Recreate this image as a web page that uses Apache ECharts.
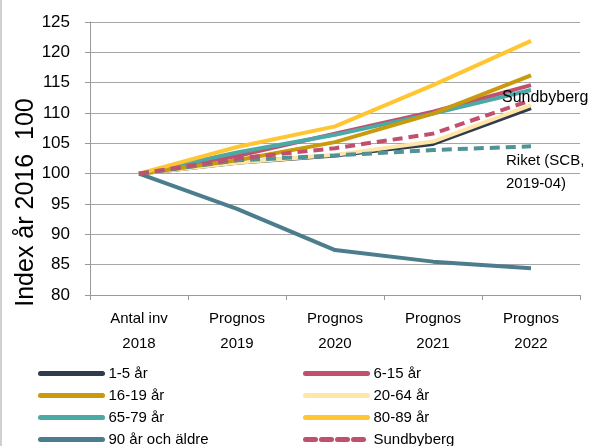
<!DOCTYPE html>
<html>
<head>
<meta charset="utf-8">
<script src="https://cdn.jsdelivr.net/npm/echarts@6/dist/echarts.min.js"></script>
<style>
  html, body { margin: 0; padding: 0; background: #fff; }
  #main { width: 594px; height: 446px; box-sizing: border-box; border-left: 2px solid #d0d0d0; }
</style>
</head>
<body>
<div id="main"></div>
<script type="text/javascript">
    var categories = ['Antal inv\n2018', 'Prognos\n2019', 'Prognos\n2020', 'Prognos\n2021', 'Prognos\n2022'];

    var age1_5 = [100, 101.8, 103.0, 104.9, 110.8];
    var age6_15 = [100, 102.9, 106.6, 110.2, 114.6];
    var age16_19 = [100, 102.2, 105.2, 109.9, 116.2];
    var age20_64 = [100, 101.8, 103.1, 105.3, 111.3];
    var age65_79 = [100, 103.5, 106.4, 109.9, 113.8];
    var age80_89 = [100, 104.4, 107.8, 114.6, 121.9];
    var age90 = [100, 94.2, 87.4, 85.5, 84.4];
    var sundbyberg = [100, 102.5, 104.2, 106.6, 112.1];
    var riket = [100, 102.2, 103.0, 103.9, 104.5];

    var font = 'Liberation Sans';

    function line(name, data, color, dashed) {
        return {
            name: name,
            type: 'line',
            data: data,
            symbol: 'none',
            color: color,
            lineStyle: { width: 4, color: color, type: dashed ? [10, 6] : 'solid' },
            z: dashed ? 5 : 2
        };
    }

    var series = [
        line('1-5 år', age1_5, '#2F3B4E'),
        line('20-64 år', age20_64, '#FFE6A8'),
        line('6-15 år', age6_15, '#C0506E'),
        line('65-79 år', age65_79, '#4BA9A6'),
        line('16-19 år', age16_19, '#C99A0C'),
        line('80-89 år', age80_89, '#FFC632'),
        line('90 år och äldre', age90, '#4C7D8C'),
        line('Riket', riket, '#4F9397', true),
        line('Sundbyberg', sundbyberg, '#C0506E', true)
    ];

    // inline labels at the end of the two dashed lines
    series[7].endLabel = {
        show: true, formatter: 'Riket (SCB,\n2019-04)', distance: 0, offset: [-25, 26],
        fontFamily: font, fontSize: 15, color: '#000', lineHeight: 23, align: 'left'
    };
    series[8].endLabel = {
        show: true, formatter: 'Sundbyberg', distance: 0, offset: [-29, -3],
        fontFamily: font, fontSize: 16, color: '#000', align: 'left'
    };

    var legendText = { fontFamily: font, fontSize: 15, color: '#000', padding: [0, 0, 0, 1] };
    var legendBase = {
        orient: 'vertical', top: 361, height: 90, itemWidth: 62, itemHeight: 14, itemGap: 7,
        textStyle: legendText,
        itemStyle: { opacity: 0 },
        lineStyle: { width: 5, cap: 'round' }
    };

    var option = {
        animation: false,
        backgroundColor: '#fff',
        grid: { left: 88, right: 14, top: 22, bottom: 151, outerBoundsMode: 'none' },
        legend: [
            Object.assign({}, legendBase, {
                left: 31,
                data: ['1-5 år', '16-19 år', '65-79 år', '90 år och äldre']
            }),
            Object.assign({}, legendBase, {
                left: 296,
                data: ['6-15 år', '20-64 år', '80-89 år', 'Sundbyberg']
            })
        ],
        xAxis: {
            type: 'category',
            data: categories,
            boundaryGap: true,
            axisLine: { lineStyle: { color: '#999', width: 1 } },
            axisTick: { show: true, length: 5, lineStyle: { color: '#999' } },
            axisLabel: { fontFamily: font, fontSize: 15, color: '#000', lineHeight: 25, margin: 11 }
        },
        yAxis: {
            type: 'value',
            min: 80, max: 125, interval: 5,
            name: 'Index år 2016  100',
            nameLocation: 'middle',
            nameGap: 51,
            nameMoveOverlap: false,
            nameTextStyle: { fontFamily: font, fontSize: 25, color: '#000', padding: [0, 88, 0, 0] },
            axisLine: { show: true, lineStyle: { color: '#999' } },
            axisTick: { show: true, length: 5, lineStyle: { color: '#999' } },
            axisLabel: { fontFamily: font, fontSize: 17, color: '#000', margin: 20 },
            splitLine: { lineStyle: { color: '#A6A6A6', width: 1 } }
        },
        series: series
    };

    var myChart = echarts.init(document.getElementById('main'));
    myChart.setOption(option);
</script>
</body>
</html>
